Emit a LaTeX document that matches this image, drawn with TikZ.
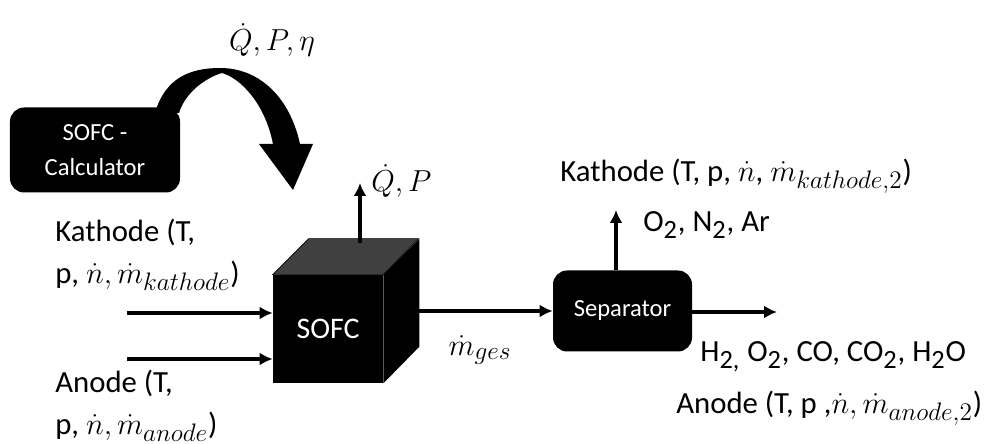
\documentclass[tikz,border=0pt]{standalone}
\usepackage{amsmath}
\usepackage{fontspec}
\setmainfont{Carlito}
\DeclareMathSizes{17.5}{19}{15}{12}
\usepackage{tikz}
\usetikzlibrary{arrows.meta, positioning}
\definecolor{topgray}{RGB}{64, 64, 64}

\begin{document}
\begin{tikzpicture}[
    flow/.style={line width=2.2pt, -{Latex[length=2.6mm, width=2.6mm]}},
    blackbox/.style={rectangle, rounded corners=8pt, fill=black, text=white, align=center},
    label/.style={font=\fontsize{17.5}{24}\selectfont, align=left, inner sep=0pt},
]
    \useasboundingbox (0,0) rectangle (20.06, 8.86);

    % SOFC calculator and curved arrow
    \node[blackbox, minimum width=3.4cm, minimum height=1.7cm,
          font=\fontsize{14}{20}\selectfont] (calc) at (1.9, 5.86) {SOFC -\\Calculator};
    \fill (3.1, 6.6) .. controls (3.3, 7.3) and (3.8, 7.5) .. (4.4, 7.5)
        .. controls (5.2, 7.5) and (5.8, 6.9) .. (6.0, 5.98)
        -- (6.26, 5.98) -- (5.86, 5.06) -- (5.18, 5.98) -- (5.46, 5.98)
        .. controls (5.3, 6.8) and (4.8, 7.3) .. (4.44, 7.4)
        .. controls (4.1, 7.3) and (3.7, 7.0) .. (3.58, 6.6) -- cycle;
    \node[label, anchor=center] (res) at (5.44, 8.06) {$\dot{Q}, P, \eta$};

    % SOFC cube
    \node[rectangle, fill=black, text=white, minimum width=2.2cm, minimum height=2.16cm,
          font=\fontsize{17}{19}\selectfont] (sofc) at (6.56, 2.28) {SOFC};
    \draw[fill=topgray] (sofc.north west) -- ++(0.72, 0.72) -- ++(2.2, 0) -- (sofc.north east) -- cycle;
    \fill (sofc.north east) -- ++(0.72, 0.72) -- ++(0, -2.16) -- (sofc.south east) -- cycle;

    % heat and power output
    \coordinate (qbase) at (7.2, 4.0);
    \coordinate (qtop) at (7.2, 5.2);
    \draw[flow] (qbase) -- (qtop);
    \node[label, anchor=west] (heat) at (7.42, 5.24) {$\dot{Q}, P$};

    % inputs
    \coordinate (kin) at (2.54, 2.6);
    \coordinate (ain) at (2.54, 1.68);
    \draw[flow] (kin) -- (kin -| sofc.west);
    \draw[flow] (ain) -- (ain -| sofc.west);
    \node[label, anchor=west] (kathin) at (1.1, 3.76) {Kathode (T,\\p, $\dot{n}, \dot{m}_{kathode}$)};
    \node[label, anchor=west] (anin) at (1.1, 0.74) {Anode (T,\\p, $\dot{n}, \dot{m}_{anode}$)};

    % separator
    \node[blackbox, minimum width=2.78cm, minimum height=1.62cm,
          font=\fontsize{14}{16}\selectfont] (sep) at (12.45, 2.64) {Separator};
    \draw[flow] ([xshift=7.2mm]sofc.east |- sep.west) -- (sep.west);
    \node[label, anchor=center] (mges) at (9.6, 1.86) {$\dot{m}_{ges}$};

    % kathode outlet
    \coordinate (kout) at (12.32, 4.66);
    \draw[flow] (kout |- sep.north) -- (kout);
    \node[label, anchor=west] (kgas) at (12.86, 4.36) {O\textsubscript{2}, N\textsubscript{2}, Ar};
    \node[label, anchor=west] (kathout) at (11.2, 5.34) {Kathode (T, p, $\dot{n}$, $\dot{m}_{kathode,2}$)};

    % anode outlet
    \coordinate (aout) at (15.54, 2.62);
    \draw[flow] (sep.east |- aout) -- (aout);
    \node[label, anchor=west] (agas) at (14.0, 1.72)
        {H\textsubscript{2,} O\textsubscript{2}, CO, CO\textsubscript{2}, H\textsubscript{2}O};
    \node[label, anchor=west] (anout) at (13.52, 0.7) {Anode (T, p ,$\dot{n}, \dot{m}_{anode,2}$)};
\end{tikzpicture}
\end{document}
